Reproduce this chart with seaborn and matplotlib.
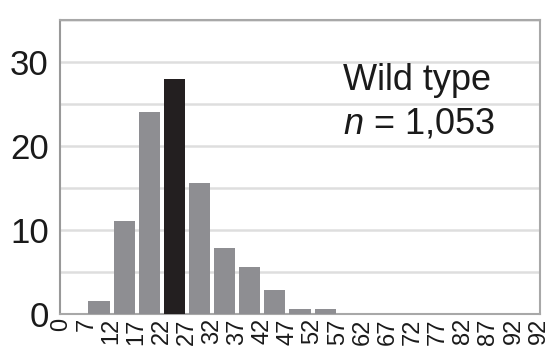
import matplotlib
matplotlib.use("Agg")
import matplotlib.pyplot as plt
import seaborn as sns
import pandas as pd

# Bin edges (tick labels) and percentage of cells per bin
edge_labels = ["0", "7", "12", "17", "22", "27", "32", "37", "42", "47",
               "52", "57", "62", "67", "72", "77", "82", "87", "92", "92"]
bin_names = [f"{a}-{b}" for a, b in zip(edge_labels[:-1], edge_labels[1:])]
percent = [0, 1.5, 11.1, 24.0, 28.0, 15.6, 7.8, 5.6, 2.9, 0.6,
           0.6, 0, 0, 0, 0, 0, 0, 0, 0]
highlight_bin = "22-27"

df = pd.DataFrame({"bin": bin_names, "percent": percent})
df["group"] = ["mode" if b == highlight_bin else "other" for b in bin_names]

sns.set_theme(style="white")
plt.rcParams["font.family"] = ["Liberation Sans", "DejaVu Sans"]
plt.rcParams["mathtext.fontset"] = "custom"
plt.rcParams["mathtext.it"] = "Liberation Sans:italic"
plt.rcParams["mathtext.rm"] = "Liberation Sans"

fig = plt.figure(figsize=(5.5, 3.47), dpi=100)
ax = fig.add_axes([60 / 550, 1 - 314 / 347, 480 / 550, 294 / 347])

sns.barplot(data=df, x="bin", y="percent", hue="group",
            palette={"mode": "#231f20", "other": "#8e8e92"},
            width=0.84, dodge=False, legend=False, saturation=1,
            edgecolor="none", ax=ax, zorder=3)

ax.set_xlim(-0.55, len(bin_names) - 0.45)
ax.set_ylim(0, 35)

# horizontal gridlines every 5
for yv in range(5, 36, 5):
    ax.axhline(yv, color="#dedede", lw=1.8, zorder=1)

ax.set_yticks([0, 10, 20, 30])
ax.set_yticklabels(["0", "10", "20", "30"], fontsize=25, color="#1a1a1a")
ax.tick_params(axis="y", length=0, pad=8)

edge_pos = [i - 0.5 for i in range(len(edge_labels))]
ax.set_xticks(edge_pos)
ax.set_xticklabels(edge_labels, rotation=90, fontsize=17, color="#1a1a1a",
                   va="top", ha="center")
ax.tick_params(axis="x", length=3, width=0.8, color="#bbbbbb",
               direction="in", pad=3)

ax.set_xlabel("")
ax.set_ylabel("")

for side in ["left", "right", "top", "bottom"]:
    ax.spines[side].set_visible(True)
    ax.spines[side].set_color("#a8a8a8")
    ax.spines[side].set_linewidth(1.5)
ax.spines["left"].set_color("#999999")

fig.text(343 / 550, 1 - 90 / 347, "Wild type",
         fontsize=26, color="#1a1a1a", ha="left", va="baseline")
fig.text(343 / 550, 1 - 133 / 347, r"$n$ = 1,053",
         fontsize=26, color="#1a1a1a", ha="left", va="baseline")

fig.savefig("out.png", dpi=100)
